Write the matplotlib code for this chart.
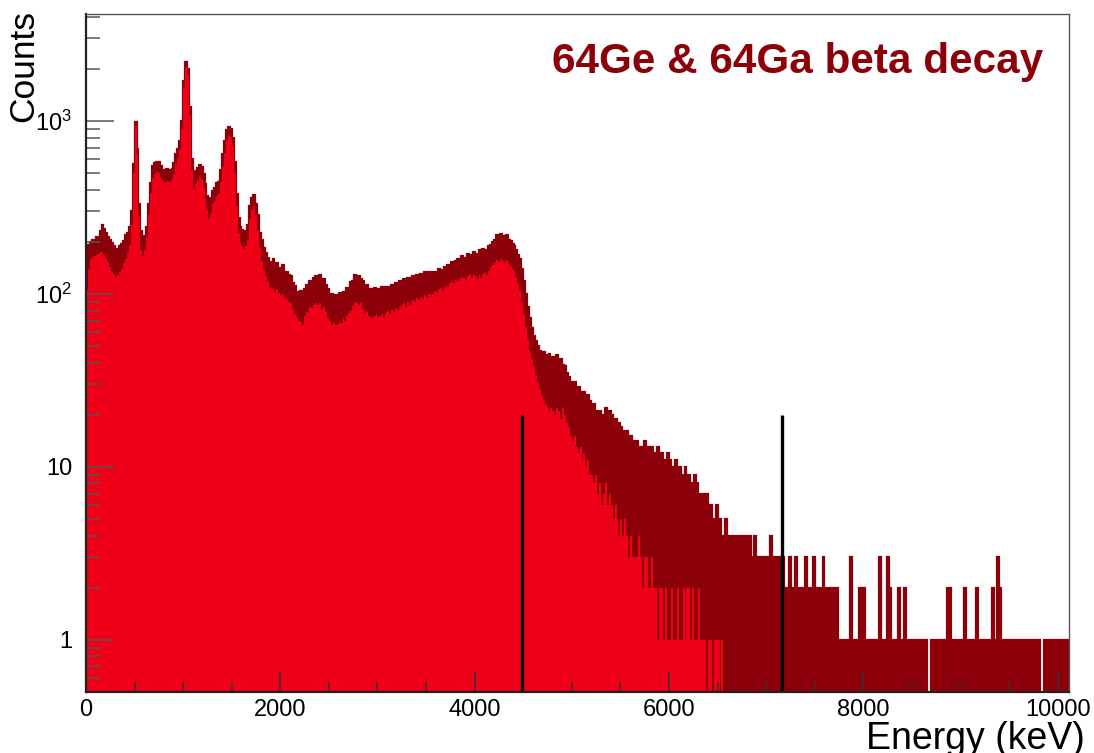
import numpy as np
import matplotlib
matplotlib.use("Agg")
import matplotlib.pyplot as plt
from matplotlib.ticker import MultipleLocator, FixedLocator, FixedFormatter, NullFormatter, LogLocator

# ---------------- data (counts per 20 keV bin) ----------------
bin_width_kev = 20
energy_max = 10120

# total spectrum (64Ge + 64Ga), dark red
total_counts = [
    172, 192, 200, 206, 200, 214, 210, 232, 250, 236,
    225, 214, 205, 197, 190, 182, 178, 190, 195, 203,
    219, 226, 242, 300, 560, 990, 690, 330, 232, 200,
    215, 242, 330, 440, 545, 570, 582, 575, 548, 521,
    510, 525, 515, 520, 530, 572, 640, 690, 760, 1000,
    1700, 2200, 2000, 1200, 600, 480, 510, 533, 557, 540,
    490, 430, 370, 334, 360, 395, 410, 440, 446, 520,
    640, 760, 880, 920, 900, 800, 580, 380, 275, 245,
    235, 225, 232, 250, 320, 360, 375, 330, 285, 225,
    205, 185, 172, 162, 152, 147, 158, 145, 150, 141,
    140, 146, 133, 134, 128, 126, 116, 111, 103, 100,
    104, 96, 106, 112, 109, 119, 117, 124, 127, 121,
    128, 118, 121, 112, 106, 99, 100, 94, 99, 95,
    101, 96, 103, 101, 108, 107, 117, 118, 128, 125,
    126, 121, 119, 110, 112, 106, 106, 101, 108, 105,
    107, 101, 109, 103, 110, 107, 109, 113, 108, 116,
    111, 119, 115, 122, 115, 124, 117, 123, 126, 119,
    128, 122, 131, 124, 133, 125, 134, 128, 133, 134,
    130, 139, 136, 137, 143, 141, 146, 143, 152, 146,
    155, 160, 153, 165, 162, 158, 170, 168, 166, 175,
    171, 168, 178, 172, 181, 176, 179, 188, 192, 200,
    206, 218, 208, 221, 215, 214, 218, 206, 202, 193,
    190, 180, 168, 160, 140, 118, 100, 84, 72, 63,
    57, 53, 50, 47, 45, 46, 44, 42, 45, 43,
    43, 41, 44, 40, 42, 39, 38, 35, 33, 31,
    30, 31, 28, 29, 27, 26, 27, 25, 26, 24,
    22, 23, 21, 20, 21, 19, 20, 22, 19, 21,
    20, 18, 19, 17, 18, 17, 16, 15, 16, 14,
    15, 14, 13, 14, 13, 12, 13, 14, 12, 13,
    12, 13, 11, 12, 13, 11, 12, 10, 11, 12,
    11, 9, 10, 11, 9, 10, 8, 9, 10, 8,
    9, 8, 7, 9, 8, 7, 6, 7, 6, 7,
    5, 6, 5, 4, 6, 4, 5, 4, 4, 5,
    4, 4, 3, 4, 4, 3, 4, 4, 3, 4,
    3, 4, 3, 3, 4, 3, 3, 3, 2, 3,
    3, 3, 4, 3, 2, 3, 3, 3, 3, 2,
    2, 2, 3, 2, 2, 3, 2, 2, 2, 2,
    3, 2, 2, 2, 3, 2, 2, 2, 2, 3,
    2, 2, 2, 1, 2, 1, 2, 1, 1, 1,
    1, 1, 1, 3, 1, 1, 1, 1, 2, 1,
    2, 1, 1, 1, 1, 1, 1, 1, 3, 1,
    1, 1, 3, 2, 1, 1, 0, 1, 2, 0,
    1, 2, 1, 1, 1, 1, 1, 1, 1, 1,
    1, 1, 1, 0, 0, 1, 1, 1, 1, 1,
    1, 1, 1, 2, 2, 1, 1, 1, 1, 1,
    1, 1, 2, 1, 1, 1, 0, 1, 2, 1,
    1, 1, 1, 1, 1, 1, 2, 1, 1, 3,
    2, 1, 1, 1, 1, 1, 1, 0, 1, 1,
    1, 1, 1, 1, 1, 1, 1, 1, 1, 1,
    1, 0, 0, 1, 1, 1, 1, 1, 0, 1,
    1, 1, 1, 1, 1, 1,
]

# partial spectrum, bright red (ends at 6600 keV)
partial_counts = [
    105, 140, 158, 164, 165, 167, 170, 175, 172, 168,
    160, 152, 142, 135, 131, 125, 128, 133, 140, 150,
    160, 172, 192, 250, 500, 940, 640, 280, 180, 165,
    180, 210, 285, 385, 465, 495, 505, 497, 470, 450,
    440, 452, 445, 450, 460, 495, 560, 610, 680, 900,
    1550, 2050, 1850, 1080, 520, 405, 430, 455, 475, 460,
    410, 360, 305, 272, 295, 330, 345, 370, 378, 445,
    540, 650, 780, 820, 810, 720, 500, 320, 225, 200,
    190, 182, 188, 205, 270, 305, 320, 285, 235, 185,
    155, 138, 126, 118, 110, 106, 108, 102, 106, 101,
    98, 100, 94, 93, 90, 88, 82, 76, 73, 70,
    69, 66, 74, 78, 77, 84, 83, 86, 88, 86,
    89, 82, 84, 78, 72, 70, 66, 68, 66, 67,
    69, 68, 72, 70, 74, 77, 80, 85, 88, 90,
    86, 88, 82, 77, 78, 74, 72, 73, 74, 76,
    73, 74, 76, 72, 77, 80, 76, 81, 79, 83,
    81, 84, 86, 88, 84, 90, 86, 88, 92, 90,
    94, 92, 96, 93, 98, 96, 100, 98, 100, 104,
    102, 106, 108, 104, 110, 112, 110, 115, 118, 116,
    120, 118, 122, 125, 124, 120, 126, 128, 124, 128,
    126, 122, 128, 124, 130, 132, 128, 136, 142, 146,
    150, 156, 152, 158, 155, 150, 156, 148, 144, 138,
    140, 125, 115, 105, 90, 76, 64, 55, 47, 42,
    38, 34, 31, 28, 26, 24, 23, 22, 21, 22,
    21, 20, 22, 21, 19, 22, 20, 18, 17, 15,
    14, 15, 13, 12, 13, 11, 12, 10, 11, 9,
    9, 8, 9, 7, 8, 6, 7, 8, 6, 7,
    6, 5, 6, 5, 4, 5, 4, 5, 4, 3,
    4, 3, 3, 3, 4, 3, 2, 3, 3, 2,
    2, 3, 2, 2, 1, 2, 2, 1, 2, 1,
    1, 2, 1, 1, 2, 1, 1, 2, 1, 2,
    2, 1, 2, 1, 1, 2, 1, 1, 1, 0,
    1, 1, 0, 1, 1, 1, 0, 1, 0, 0,
]

# Q-value markers (keV) and their height (counts)
marker_energies = [4485, 7160]
marker_height = 20

x_ticks = [0, 2000, 4000, 6000, 8000, 10000]
x_tick_labels = ["0", "2000", "4000", "6000", "8000", "10000"]
y_ticks = [1, 10, 100, 1000]
y_tick_labels = ["1", "10", r"$\mathregular{10^{2}}$", r"$\mathregular{10^{3}}$"]

title_text = "64Ge & 64Ga beta decay"
x_label = "Energy (keV)"
y_label = "Counts"

# ---------------- style ----------------
DARK = "#8c000a"
BRIGHT = "#ee0019"
plt.rcParams["font.family"] = ["Liberation Sans", "DejaVu Sans"]
plt.rcParams["mathtext.fontset"] = "custom"
plt.rcParams["mathtext.rm"] = "Liberation Sans"

W, H = 1094, 753
fig = plt.figure(figsize=(W / 100, H / 100), dpi=100)
ax = fig.add_axes([86 / W, 1 - 691.7 / H, (1069.3 - 86) / W, (691.7 - 14) / H])

total = np.asarray(total_counts, dtype=float)
partial = np.asarray(partial_counts, dtype=float)
edges_total = np.arange(len(total) + 1) * bin_width_kev
edges_partial = np.arange(len(partial) + 1) * bin_width_kev

floor = 1e-3
tot_plot = np.where(total > 0, total, floor)
par_plot = np.where(partial > 0, partial, floor)

ax.set_yscale("log")
ax.stairs(tot_plot, edges_total, baseline=floor, fill=True, color=DARK, lw=0, zorder=1)
ax.stairs(tot_plot, edges_total, baseline=floor, fill=False, color=DARK, lw=1.6, zorder=1)
ax.stairs(par_plot, edges_partial, baseline=floor, fill=True, color=BRIGHT, lw=0, zorder=2)

ymin, ymax = 0.5, 4150
for e in marker_energies:
    ax.vlines(e, ymin, marker_height, color="black", lw=2.4, zorder=3)

ax.set_xlim(0, energy_max)
ax.set_ylim(ymin, ymax)

# ticks
ax.xaxis.set_major_locator(FixedLocator(x_ticks))
ax.xaxis.set_major_formatter(FixedFormatter(x_tick_labels))
ax.xaxis.set_minor_locator(MultipleLocator(500))
ax.yaxis.set_major_locator(FixedLocator(y_ticks))
ax.yaxis.set_major_formatter(FixedFormatter(y_tick_labels))
ax.yaxis.set_minor_locator(LogLocator(base=10, subs=np.arange(2, 10), numticks=20))
ax.yaxis.set_minor_formatter(NullFormatter())

ax.tick_params(axis="x", which="major", direction="in", length=14.4, width=1.1,
               color="#333333", labelsize=17, pad=5, top=False)
ax.tick_params(axis="x", which="minor", direction="in", length=7.2, width=1.1,
               color="#333333", top=False)
ax.tick_params(axis="y", which="major", direction="in", length=20, width=1.1,
               color="#555555", labelsize=17, pad=10, right=False)
ax.tick_params(axis="y", which="minor", direction="in", length=10, width=1.1,
               color="#555555", right=False)
ax.set_axisbelow(False)

for side in ["left", "bottom"]:
    ax.spines[side].set_color("#222222")
    ax.spines[side].set_linewidth(1.6)
for side in ["top", "right"]:
    ax.spines[side].set_color("#555555")
    ax.spines[side].set_linewidth(1.0)
for s in ax.spines.values():
    s.set_zorder(6)

# texts
fig.text(1043.3 / W, 1 - 73.3 / H, title_text, color=DARK, fontsize=30.4,
         fontweight="bold", ha="right", va="baseline")
fig.text(1085 / W, 1 - 749 / H, x_label, fontsize=27, ha="right", va="baseline")
fig.text(24 / W, 1 - 66 / H, y_label, fontsize=25.5, rotation=90, ha="center", va="center")

fig.savefig("out.png", dpi=100)
